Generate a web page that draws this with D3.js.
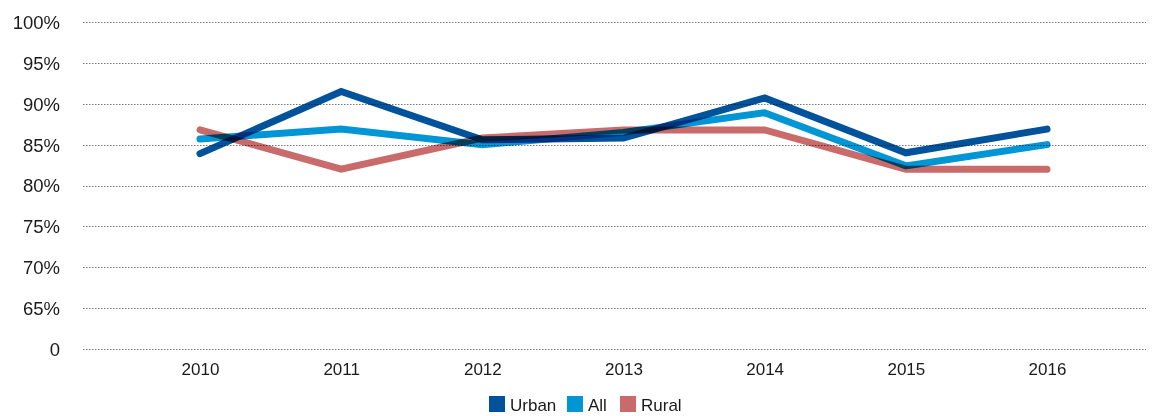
<!DOCTYPE html>
<html><head><meta charset="utf-8">
<script src="https://cdn.jsdelivr.net/npm/d3@7"></script>
<style>body{margin:0;background:#fff}svg{display:block}text{font-family:"Liberation Sans",Arial,sans-serif;fill:#1a1a1a}</style>
</head><body>
<svg id="c" width="1152" height="416"></svg>
<script>
const years = ["2010","2011","2012","2013","2014","2015","2016"];
const urban = [83.9, 91.5, 85.6, 85.8, 90.7, 84.0, 86.9];
const all = [85.7, 86.9, 85.0, 86.5, 88.9, 82.4, 85.0];
const rural = [86.8, 82.0, 85.8, 86.8, 86.8, 82.0, 82.0];
const yTicks = [60, 65, 70, 75, 80, 85, 90, 95, 100];
const yTickLabels = ["0","65%","70%","75%","80%","85%","90%","95%","100%"];
const seriesNames = ["Urban","All","Rural"];
const colors = ["#00539a","#0095d5","#c96b6b"];

const svg = d3.select("#c");
const x = d3.scalePoint().domain(years).range([200, 1047]);
const y = d3.scaleLinear().domain([60, 100]).range([349, 22]);

// grid
svg.append("g").selectAll("line").data(yTicks).join("line")
  .attr("x1", 83).attr("x2", 1146)
  .attr("y1", d => Math.round(y(d)) + 0.5).attr("y2", d => Math.round(y(d)) + 0.5)
  .attr("stroke", "#777").attr("stroke-width", 1).attr("stroke-dasharray", "1.5,1.5");

// y labels
const yAxis = d3.axisLeft(y).tickValues(yTicks).tickFormat((d, i) => yTickLabels[i]).tickSize(0).tickPadding(0);
const gy = svg.append("g").attr("transform", "translate(60,0)").call(yAxis);
gy.select(".domain").remove();
gy.selectAll("text").style("font-size", "18.5px").attr("fill", "#1a1a1a").attr("dy", "0.35em");

// x labels
const xAxis = d3.axisBottom(x).tickSize(0).tickPadding(0);
const gx = svg.append("g").attr("transform", "translate(0,363)").call(xAxis);
gx.select(".domain").remove();
gx.selectAll("text").style("font-size", "17px").attr("fill", "#1a1a1a").attr("dy", "0.71em");

// lines
const series = [urban, all, rural];
const line = d3.line().x((d, i) => x(years[i])).y(d => y(d));
const order = [2, 1, 0];
svg.append("g").selectAll("path").data(order).join("path")
  .attr("d", k => line(series[k]))
  .attr("fill", "none").attr("stroke", k => colors[k]).attr("stroke-width", 7)
  .attr("stroke-linecap", "round").attr("stroke-linejoin", "miter")
  .style("mix-blend-mode", "multiply");

// legend
const legX = [489, 567, 620];
const lg = svg.append("g").selectAll("g").data(seriesNames).join("g")
  .attr("transform", (d, i) => `translate(${legX[i]},396)`);
lg.append("rect").attr("width", 16).attr("height", 16).attr("fill", (d, i) => colors[i]);
lg.append("text").attr("x", 21).attr("y", 15).style("font-size", "17px").text(d => d);
</script>
</body></html>
